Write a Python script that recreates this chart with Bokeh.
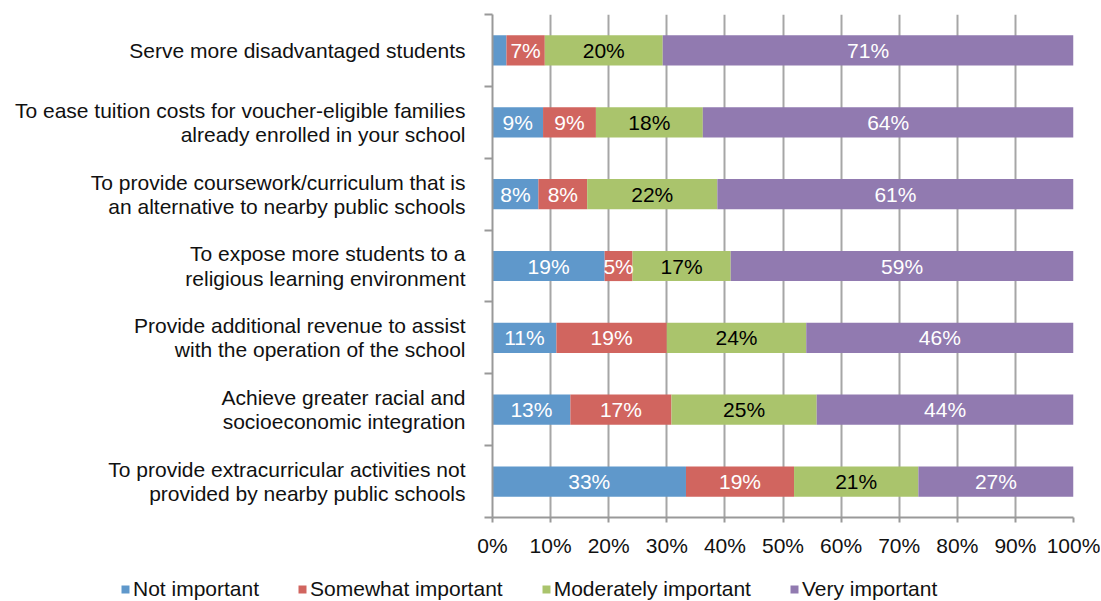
from bokeh.plotting import figure
from bokeh.models import (Range1d, FixedTicker, Legend, LegendItem, ColumnDataSource)
from bokeh.core.properties import value
from bokeh.embed import file_html
from bokeh.resources import INLINE

categories = [
    "Serve more disadvantaged students",
    "To ease tuition costs for voucher-eligible families\nalready enrolled in your school",
    "To provide coursework/curriculum that is\nan alternative to nearby public schools",
    "To expose more students to a\nreligious learning environment",
    "Provide additional revenue to assist\nwith the operation of the school",
    "Achieve greater racial and\nsocioeconomic integration",
    "To provide extracurricular activities not\nprovided by nearby public schools",
]
series = ["Not important", "Somewhat important", "Moderately important", "Very important"]
not_important = [2.4, 8.7, 7.9, 19.3, 11.0, 13.4, 33.3]
somewhat_important = [6.6, 9.1, 8.4, 4.8, 19.0, 17.4, 18.6]
moderately_important = [20.3, 18.4, 22.4, 16.9, 24.0, 25.0, 21.4]
very_important = [70.7, 63.8, 61.3, 59.0, 46.0, 44.2, 26.7]
x_ticks = [0, 10, 20, 30, 40, 50, 60, 70, 80, 90, 100]

colors = ["#5F98CB", "#D1655F", "#AAC46C", "#917AB0"]
label_colors = ["white", "white", "black", "white"]
FONT = "Liberation Sans"
FS = "21px"

n = len(categories)
ypos = [n - 0.5 - i for i in range(n)]

data = dict(y=ypos)
keys = ["s0", "s1", "s2", "s3"]
for k, vals in zip(keys, [not_important, somewhat_important, moderately_important, very_important]):
    data[k] = vals
src = ColumnDataSource(data)

p = figure(output_backend="svg", toolbar_location=None,
           frame_width=581, frame_height=503,
           min_border_left=492, min_border_top=14, min_border_right=27, min_border_bottom=54,
           x_range=Range1d(0, 100), y_range=Range1d(0, n))
p.outline_line_color = None
p.background_fill_color = "white"

renderers = p.hbar_stack(keys, y="y", height=0.42, source=src, color=colors, line_color=None)

# value labels
lx, ly, lt, lc = [], [], [], []
all_vals = [not_important, somewhat_important, moderately_important, very_important]
for i in range(n):
    cum = 0.0
    for s in range(4):
        v = all_vals[s][i]
        if v >= 4:
            lx.append(cum + v / 2)
            ly.append(ypos[i])
            lt.append(f"{round(v):d}%")
            lc.append(label_colors[s])
        cum += v
lsrc = ColumnDataSource(dict(x=lx, y=ly, t=lt, c=lc))
p.text(x="x", y="y", text="t", source=lsrc, text_color="c", text_align="center",
       text_baseline="middle", text_font=value(FONT), text_font_size=FS)

# x axis
xa = p.xaxis[0]
xa.ticker = FixedTicker(ticks=x_ticks)
xa.major_label_overrides = {t: f"{t}%" for t in x_ticks}
xa.axis_line_color = "#999999"
xa.axis_line_width = 2
xa.major_tick_line_color = "#999999"
xa.major_tick_line_width = 2
xa.major_tick_in = 0
xa.major_tick_out = 5
xa.minor_tick_line_color = None
xa.major_label_standoff = 11
xa.major_label_text_font = FONT
xa.major_label_text_font_size = FS
xa.major_label_text_color = "#111111"

# y axis
ya = p.yaxis[0]
ya.ticker = FixedTicker(ticks=ypos, minor_ticks=list(range(n + 1)))
ya.major_label_overrides = {y: c for y, c in zip(ypos, categories)}
ya.axis_line_color = "#999999"
ya.axis_line_width = 2
ya.major_tick_line_color = None
ya.major_tick_in = 0
ya.major_tick_out = 0
ya.minor_tick_line_color = "#999999"
ya.minor_tick_line_width = 2
ya.minor_tick_in = 0
ya.minor_tick_out = 8
ya.major_label_standoff = 19
ya.major_label_text_font = FONT
ya.major_label_text_font_size = FS
ya.major_label_text_color = "#111111"
ya.major_label_text_line_height = 1.05

p.xgrid.ticker = FixedTicker(ticks=x_ticks)
p.xgrid.grid_line_color = "#A6A6A6"
p.xgrid.grid_line_width = 2
p.ygrid.grid_line_color = None

# legend strip: a separate root figure whose frame spans the full width;
# its y range lies above the bars, so only the legend is visible
lg = figure(output_backend="svg", toolbar_location=None, width=1100, height=30,
            min_border=0, x_range=Range1d(0, 100), y_range=Range1d(n + 1, n + 2))
lg.outline_line_color = None
lg.axis.visible = False
lg.grid.visible = False
leg_renderers = lg.hbar_stack(keys, y="y", height=0.42, source=src, color=colors,
                              line_color=None)
legend = Legend(items=[LegendItem(label=s, renderers=[r]) for s, r in zip(series, leg_renderers)],
                orientation="horizontal", location=(120, 0))
legend.glyph_width = 10
legend.glyph_height = 10
legend.label_standoff = 3
legend.spacing = 38
legend.padding = 0
legend.margin = 0
legend.border_line_color = None
legend.background_fill_alpha = 0
legend.label_text_font = FONT
legend.label_text_font_size = FS
legend.label_text_color = "#111111"
lg.add_layout(legend, "center")

open("out.html", "w").write(file_html([p, lg], INLINE))
